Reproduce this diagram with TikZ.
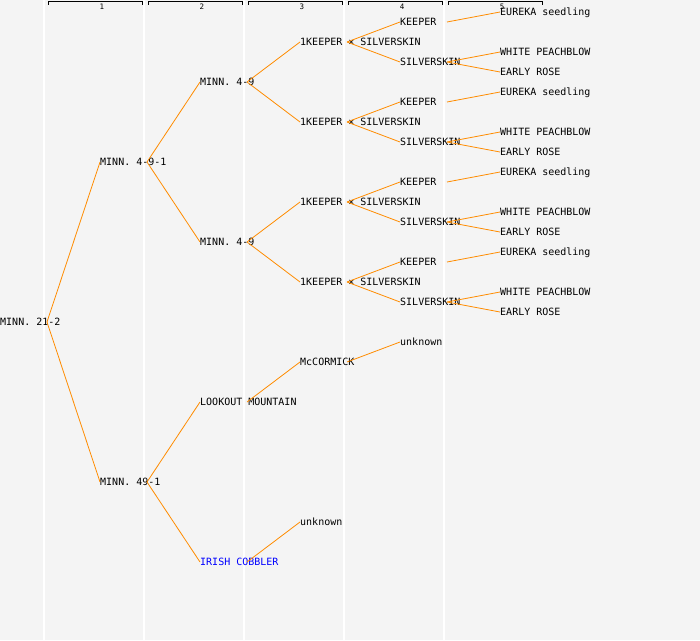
\documentclass[tikz,border=0pt]{standalone}
\usepackage{fontspec}
\setmonofont{DejaVu Sans Mono}
\usetikzlibrary{calc}
\definecolor{bggray}{HTML}{F4F4F4}
\definecolor{linkorange}{HTML}{FF8C00}
\definecolor{cobblerblue}{HTML}{0000FF}

\begin{document}
\begin{tikzpicture}[x=1pt, y=-1pt]
		\tikzstyle{variety} = [anchor=west, inner sep=0pt, text height=7.3pt, text depth=0pt, font=\ttfamily\fontsize{10}{12}\selectfont]
		\tikzstyle{link} = [draw=linkorange, line width=0.8pt]
		\tikzstyle{colhead} = [inner sep=0pt, font=\ttfamily\fontsize{7.5}{8}\selectfont]

		\fill[bggray] (0,0) rectangle (700,640);
		\useasboundingbox (0,0) rectangle (700,640);

		% generation columns
		\foreach \c in {1,...,5} {
			\draw[white, line width=1.5pt] (100*\c-56,0) -- (100*\c-56,640);
			\draw[black, line width=0.8pt] (100*\c-52,4.5) -- (100*\c-52,1) -- (100*\c+42,1) -- (100*\c+42,4.5);
			\node[colhead] (head\c) at (100*\c+2,7) {\c};
		}

		\node[variety] (minn212) at (0,322) {MINN. 21-2};
		\node[variety] (minn491) at (100,162) {MINN. 4-9-1};
		\node[variety] (minn49one) at (100,482) {MINN. 49-1};
		\node[variety] (minn49a) at (200,82) {MINN. 4-9};
		\node[variety] (minn49b) at (200,242) {MINN. 4-9};
		\node[variety] (lookout) at (200,402) {LOOKOUT MOUNTAIN};
		\node[variety, text=cobblerblue] (cobbler) at (200,562) {IRISH COBBLER};
		\node[variety] (mccormick) at (300,362) {McCORMICK};
		\node[variety] (unknownb) at (300,522) {unknown};
		\node[variety] (unknowna) at (400,342) {unknown};

		\coordinate (minn212-j) at ($(minn212.west)+(47,0)$);
		\coordinate (minn491-j) at ($(minn491.west)+(47,0)$);
		\coordinate (minn49one-j) at ($(minn49one.west)+(47,0)$);
		\coordinate (minn49a-j) at ($(minn49a.west)+(47,0)$);
		\coordinate (minn49b-j) at ($(minn49b.west)+(47,0)$);
		\coordinate (lookout-j) at ($(lookout.west)+(47,0)$);
		\coordinate (cobbler-j) at ($(cobbler.west)+(47,0)$);
		\coordinate (mccormick-j) at ($(mccormick.west)+(47,0)$);

		\draw[link] (minn212-j) -- (minn491.west);
		\draw[link] (minn212-j) -- (minn49one.west);
		\draw[link] (minn491-j) -- (minn49a.west);
		\draw[link] (minn491-j) -- (minn49b.west);
		\draw[link] (minn49one-j) -- (lookout.west);
		\draw[link] (minn49one-j) -- (cobbler.west);
		\draw[link] (lookout-j) -- (mccormick.west);
		\draw[link] (cobbler-j) -- (unknownb.west);
		\draw[link] (mccormick-j) -- (unknowna.west);

		% KEEPER x SILVERSKIN branches
		\foreach \b/\p in {0/minn49a, 80/minn49a, 160/minn49b, 240/minn49b} {
			\node[variety] (eureka\b) at (500,\b+12) {EUREKA seedling};
			\node[variety] (keeper\b) at (400,\b+22) {KEEPER};
			\node[variety] (cross\b) at (300,\b+42) {1KEEPER × SILVERSKIN};
			\node[variety] (white\b) at (500,\b+52) {WHITE PEACHBLOW};
			\node[variety] (silver\b) at (400,\b+62) {SILVERSKIN};
			\node[variety] (early\b) at (500,\b+72) {EARLY ROSE};

			\coordinate (cross\b-j) at ($(cross\b.west)+(47,0)$);
			\coordinate (keeper\b-j) at ($(keeper\b.west)+(47,0)$);
			\coordinate (silver\b-j) at ($(silver\b.west)+(47,0)$);

			\draw[link] (\p-j) -- (cross\b.west);
			\draw[link] (cross\b-j) -- (keeper\b.west);
			\draw[link] (cross\b-j) -- (silver\b.west);
			\draw[link] (keeper\b-j) -- (eureka\b.west);
			\draw[link] (silver\b-j) -- (white\b.west);
			\draw[link] (silver\b-j) -- (early\b.west);
		}
\end{tikzpicture}
\end{document}
